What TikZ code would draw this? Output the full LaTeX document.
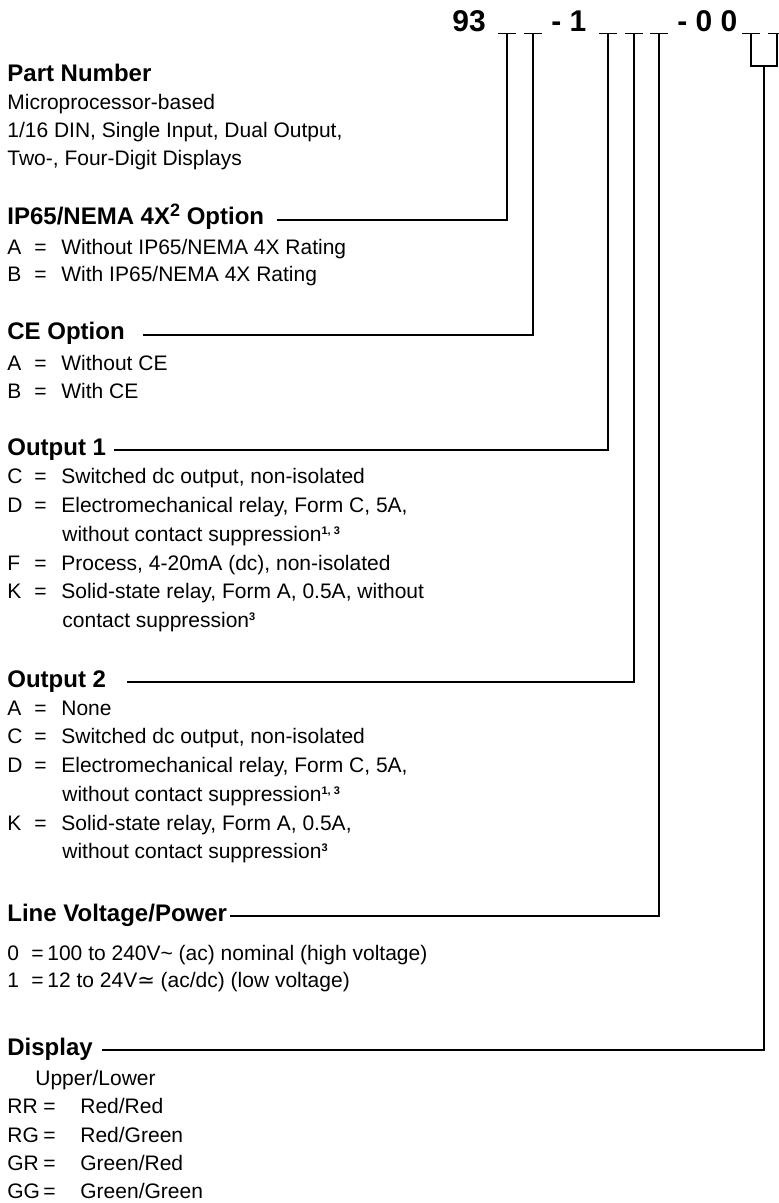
\documentclass[tikz,border=0pt]{standalone}
\usepackage{fontspec}
\setmainfont{Liberation Sans}
\newfontfamily\symfont{DejaVu Sans}
\usepackage{tikz}
\usetikzlibrary{positioning}

% key = text columns of the option lists
\newcommand{\optline}[2]{\makebox[13.5pt][l]{#1}\makebox[13.5pt][l]{=}#2}
\newcommand{\voltline}[2]{\makebox[12pt][l]{#1}\makebox[8pt][l]{=}#2}
\newcommand{\displine}[2]{\makebox[18pt][l]{#1}\makebox[18.5pt][l]{=}#2}
\newcommand{\fnote}[1]{\raisebox{3.5pt}{\fontsize{5.5}{6}\selectfont\bfseries #1}}

\begin{document}
\begin{tikzpicture}[
    x=0.5pt, y=-0.5pt,
    title/.style={font=\fontsize{15}{18}\selectfont\bfseries, anchor=base west, inner sep=0pt},
    head/.style={font=\fontsize{12}{14}\selectfont\bfseries, anchor=base west, inner sep=0pt},
    item/.style={font=\fontsize{10.5}{13}\selectfont, anchor=base west, inner sep=0pt},
    lead/.style={draw=black, line width=0.85pt},
]
\useasboundingbox (0,0) rectangle (778,1203);

% --- part number code ---
\node[title] (t93) at (452,32) {93};
\node[title] (tone) at (551,32) {- 1};
\node[title] (tzero) at (677,32) {- 0 0};

\coordinate (d1) at (507,33.5);
\coordinate (d2) at (533,33.5);
\coordinate (d3) at (608,33.5);
\coordinate (d4) at (634,33.5);
\coordinate (d5) at (659,33.5);
\coordinate (d6) at (751,33.5);
\coordinate (d7) at (777,33.5);
\coordinate (bk) at (764,66);

\foreach \d in {d1,d2,d3,d4,d5,d6,d7}
    \draw[lead] ([xshift=-4.5pt]\d) -- ([xshift=4.5pt]\d);
\draw[lead] (d6) |- (bk) -| (d7);

% --- part number ---
\node[head] (hpart) at (7,82) {Part Number};
\node[item] (part1) at (7,110) {Microprocessor-based};
\node[item] (part2) at (7,138) {1/16 DIN, Single Input, Dual Output,};
\node[item] (part3) at (7,166) {Two-, Four-Digit Displays};

% --- IP65 ---
\node[head] (hip) at (7,225) {IP65/NEMA 4X\raisebox{4pt}{\fontsize{9}{9}\selectfont 2} Option};
\node[item] (ipa) at (7,255) {\optline{A}{Without IP65/NEMA 4X Rating}};
\node[item] (ipb) at (7,282) {\optline{B}{With IP65/NEMA 4X Rating}};
\draw[lead] ([xshift=6pt]hip.mid east) -| (d1);

% --- CE ---
\node[head] (hce) at (7,340) {CE Option};
\node[item] (cea) at (7,370) {\optline{A}{Without CE}};
\node[item] (ceb) at (7,398) {\optline{B}{With CE}};
\draw[lead] ([xshift=9pt]hce.mid east) -| (d2);

% --- output 1 ---
\node[head] (hout1) at (7,455) {Output 1};
\node[item] (o1c) at (7,483) {\optline{C}{Switched dc output, non-isolated}};
\node[item] (o1d) at (7,512) {\optline{D}{Electromechanical relay, Form C, 5A,}};
\node[item] (o1dd) at (62,541) {without contact suppression\fnote{1, 3}};
\node[item] (o1f) at (7,570) {\optline{F}{Process, 4-20mA (dc), non-isolated}};
\node[item] (o1k) at (7,598) {\optline{K}{Solid-state relay, Form A, 0.5A, without}};
\node[item] (o1kk) at (62,627) {contact suppression\fnote{3}};
\draw[lead] ([xshift=4pt]hout1.mid east) -| (d3);

% --- output 2 ---
\node[head] (hout2) at (7,687) {Output 2};
\node[item] (o2a) at (7,715) {\optline{A}{None}};
\node[item] (o2c) at (7,743) {\optline{C}{Switched dc output, non-isolated}};
\node[item] (o2d) at (7,772) {\optline{D}{Electromechanical relay, Form C, 5A,}};
\node[item] (o2dd) at (62,801) {without contact suppression\fnote{1, 3}};
\node[item] (o2k) at (7,830) {\optline{K}{Solid-state relay, Form A, 0.5A,}};
\node[item] (o2kk) at (62,858) {without contact suppression\fnote{3}};
\draw[lead] ([xshift=10.5pt]hout2.mid east) -| (d4);

% --- line voltage ---
\node[head] (hline) at (7,921) {Line Voltage/Power};
\node[item] (lv0) at (7,960) {\voltline{0}{100 to 240V\textasciitilde{} (ac) nominal (high voltage)}};
\node[item] (lv1) at (7,987) {\voltline{1}{12 to 24V{\symfont ≃} (ac/dc) (low voltage)}};
\draw[lead] ([xshift=1.5pt]hline.mid east) -| (d5);

% --- display ---
\node[head] (hdisp) at (7,1055) {Display};
\node[item] (dul) at (35,1085) {Upper/Lower};
\node[item] (drr) at (7,1113) {\displine{RR}{Red/Red}};
\node[item] (drg) at (7,1142) {\displine{RG}{Red/Green}};
\node[item] (dgr) at (7,1170) {\displine{GR}{Green/Red}};
\node[item] (dgg) at (7,1198) {\displine{GG}{Green/Green}};
\draw[lead] ([xshift=4.5pt]hdisp.mid east) -| (bk);

\end{tikzpicture}
\end{document}
